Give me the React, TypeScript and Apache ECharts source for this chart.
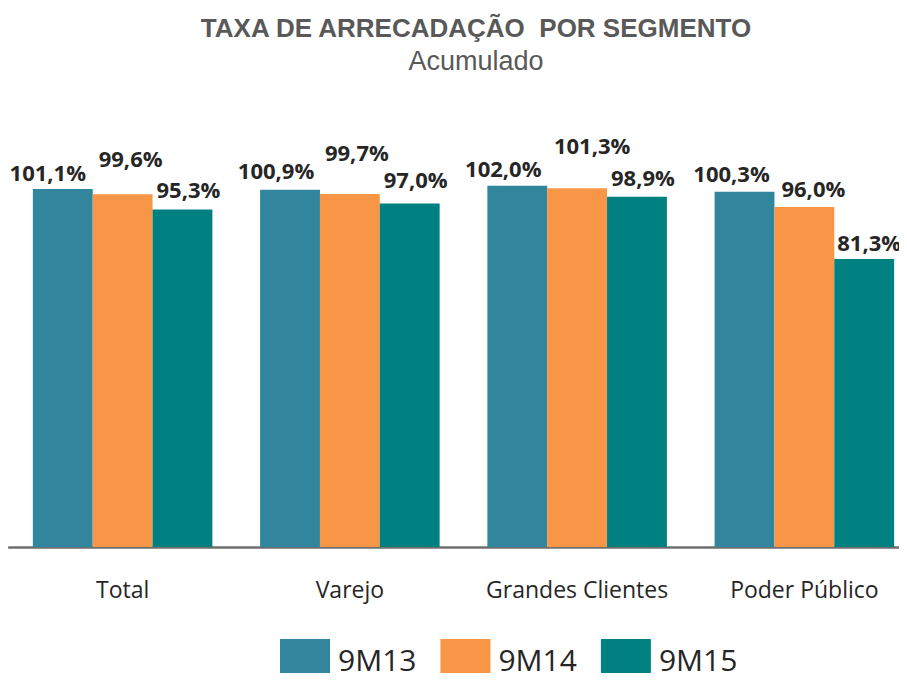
import React, { useEffect, useRef } from "react";
import * as echarts from "echarts";

const categories = ["Total", "Varejo", "Grandes Clientes", "Poder Público"];
const seriesNames = ["9M13", "9M14", "9M15"];
const values9M13 = [101.1, 100.9, 102.0, 100.3];
const values9M14 = [99.6, 99.7, 101.3, 96.0];
const values9M15 = [95.3, 97.0, 98.9, 81.3];

const seriesColors = ["#31859C", "#F79646", "#008080"];
// label nudges (dx, dy) per series per category, to mimic the staggered labels
const labelNudges = [
  [[-15, 1], [-14, -2], [-14, 0], [-13, -1]],
  [[8, -18], [7, -24], [15, -25], [9, -1]],
  [[6, -2], [6, -6], [6, -2], [5, 1]],
];

export default function App() {
  const ref = useRef<HTMLDivElement>(null);
  useEffect(() => {
    if (!ref.current) return;
    const chart = echarts.init(ref.current, null, { renderer: "svg" });
    const all = [values9M13, values9M14, values9M15];
    const fmt = (v: number) => v.toFixed(1).replace(".", ",") + "%";
    chart.setOption({
      animation: false,
      title: [
        {
          text: "TAXA DE ARRECADAÇÃO  POR SEGMENTO",
          left: 471,
          top: 10,
          textAlign: "center",
          textStyle: {
            fontFamily: "Liberation Sans",
            fontWeight: "bold",
            fontSize: 26,
            color: "#595959",
          },
        },
        {
          text: "Acumulado",
          left: 471,
          top: 42,
          textAlign: "center",
          textStyle: {
            fontFamily: "Liberation Sans",
            fontWeight: "normal",
            fontSize: 27,
            color: "#595959",
          },
        },
      ],
      legend: {
        data: seriesNames,
        left: 280,
        top: 639,
        itemWidth: 50,
        itemHeight: 40,
        itemGap: 24,
        padding: 0,
        icon: "rect",
        textStyle: {
          fontFamily: "Open Sans",
          fontSize: 30,
          lineHeight: 30,
          color: "#262626",
          padding: [0, 0, 0, 3],
        },
      },
      grid: { left: 9, right: 0, top: 122, bottom: 134 },
      xAxis: {
        type: "category",
        data: categories,
        axisLine: { lineStyle: { color: "#6f6f6f", width: 2.5 } },
        axisTick: { show: false },
        axisLabel: {
          interval: 0,
          margin: 30,
          fontFamily: "Open Sans",
          fontSize: 23,
          lineHeight: 23,
          color: "#262626",
        },
      },
      yAxis: {
        type: "value",
        min: 0,
        max: 120,
        show: false,
        splitLine: { show: false },
      },
      series: seriesNames.map((name, si) => ({
        name,
        type: "bar",
        barGap: "0%",
        barCategoryGap: "21%",
        itemStyle: { color: seriesColors[si] },
        data: all[si].map((v, ci) => ({
          value: v,
          label: {
            offset: labelNudges[si][ci],
          },
        })),
        label: {
          show: true,
          position: "top",
          distance: 7,
          fontFamily: "Open Sans",
          fontWeight: "bold",
          fontSize: 22,
          lineHeight: 22,
          color: "#262626",
          formatter: (p: any) => fmt(p.value),
        },
      })),
    });
    return () => chart.dispose();
  }, []);
  return (
    <div style={{ width: 907, height: 681, margin: -8, overflow: "hidden" }}>
      <div ref={ref} style={{ width: 918, height: 681 }} />
    </div>
  );
}
